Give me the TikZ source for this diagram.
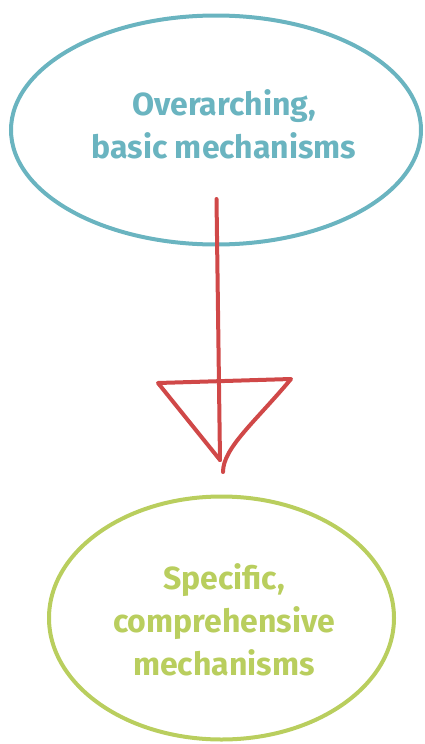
\documentclass[tikz,border=0pt]{standalone}
\usepackage{fontspec}
\setmainfont{Fira Sans}
\usepackage{xcolor}
\definecolor{RingTeal}{RGB}{106, 180, 192}
\definecolor{RingGreen}{RGB}{185, 206, 94}
\definecolor{ArrowRed}{RGB}{208, 72, 72}
\usetikzlibrary{shapes.geometric}

\begin{document}
\begin{tikzpicture}[
    x=1pt, y=-1pt,
    ring/.style={ellipse, inner sep=0pt, line width=4pt},
    caption/.style={align=center, font=\fontsize{32}{43}\selectfont\bfseries, inner sep=0pt},
    shaft/.style={line width=4pt, ArrowRed, line cap=round, line join=round}
]
\useasboundingbox (0,0) rectangle (424,744);

% Ellipses
\node[ring, draw=RingTeal, minimum width=410pt, minimum height=229pt] (over) at (216,130) {};
\node[ring, draw=RingGreen, minimum width=345pt, minimum height=243pt] (spec) at (221.5,618) {};

% Texts
\node[caption, text=RingTeal] (overtext) at (224,124) {Overarching,\\basic mechanisms};
\node[caption, text=RingGreen] (spectext) at (224,620) {Specific,\\comprehensive\\mechanisms};

% Arrow
\coordinate (start) at (216.5,199);
\coordinate (tip) at (220,460);
\coordinate (left) at (158,383);
\coordinate (right) at (291,379);
\coordinate (tail) at (223,472);
\draw[shaft] (start) -- (tip);
\draw[shaft] (tip) -- (left) -- (right) .. controls (255,422) and (223,448) .. (tail);

\end{tikzpicture}
\end{document}
